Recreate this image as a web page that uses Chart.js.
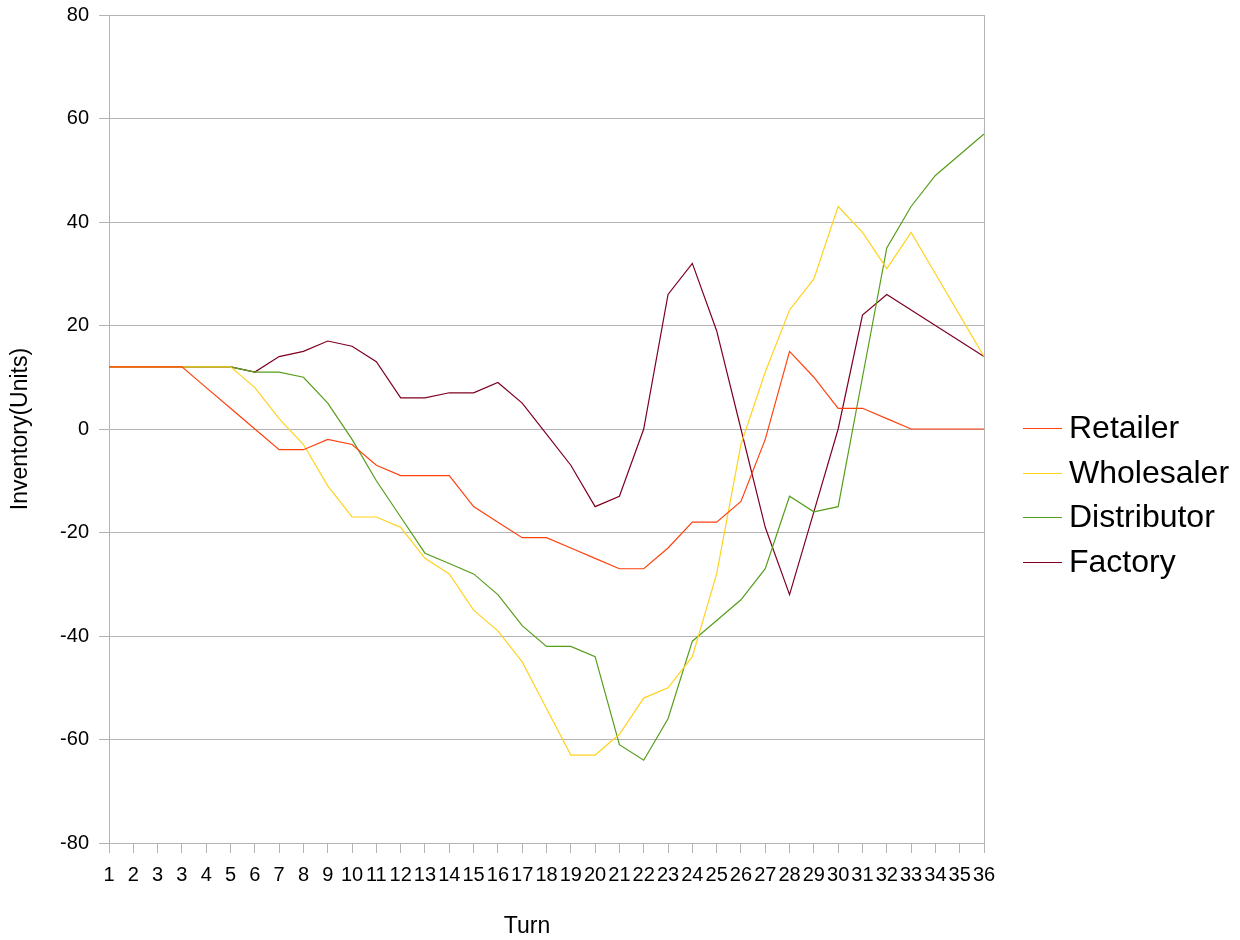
<!DOCTYPE html>
<html>
<head>
<meta charset="utf-8">
<script src="https://cdn.jsdelivr.net/npm/chart.js@4/dist/chart.umd.min.js"></script>
<style>
  body { margin: 0; background: #fff; }
  canvas { display: block; }
</style>
</head>
<body>
<canvas id="chart" width="1240" height="940"></canvas>
<script>
// ==== Data ====
const turns = ["1", "2", "3", "3", "4", "5", "6", "7", "8", "9", "10", "11", "12", "13", "14", "15", "16", "17", "18",
  "19", "20", "21", "22", "23", "24", "25", "26", "27", "28", "29", "30", "31", "32", "33", "34", "35", "36"];

const retailer = [12, 12, 12, 12, 8, 4, 0, -4, -4, -2, -3, -7, -9, -9, -9, -15, -18, -21, -21, -23, -25, -27, -27,
  -23, -18, -18, -14, -2, 15, 10, 4, 4, 2, 0, 0, 0, 0];
const wholesaler = [12, 12, 12, 12, 12, 12, 8, 2, -3, -11, -17, -17, -19, -25, -28, -35, -39, -45, -54, -63, -63,
  -59, -52, -50, -44, -28, -3, 11, 23, 29, 43, 38, 31, 38, 30, 22, 14];
const distributor = [12, 12, 12, 12, 12, 12, 11, 11, 10, 5, -2, -10, -17, -24, -26, -28, -32, -38, -42, -42, -44,
  -61, -64, -56, -41, -37, -33, -27, -13, -16, -15, 10, 35, 43, 49, 53, 57];
const factory = [12, 12, 12, 12, 12, 12, 11, 14, 15, 17, 16, 13, 6, 6, 7, 7, 9, 5, -1, -7, -15, -13, 0, 26, 32, 19,
  0, -19, -32, -16, 0, 22, 26, 23, 20, 17, 14];

const seriesNames = ["Retailer", "Wholesaler", "Distributor", "Factory"];
const seriesColors = ["#ff420e", "#ffd320", "#579d1c", "#7e0021"];

const FONT = "'Liberation Sans', Arial, sans-serif";
const GRID = "#b3b3b3";

// ==== Legend + x title drawn on the right, like the original ====
const sideLegend = {
  id: "sideLegend",
  afterDraw(chart) {
    const ctx = chart.ctx;
    ctx.save();
    ctx.font = `32px ${FONT}`;
    ctx.textBaseline = "middle";
    ctx.fillStyle = "#000";
    chart.data.datasets.forEach((ds, i) => {
      const y = 428 + i * 44.7;
      ctx.strokeStyle = ds.borderColor;
      ctx.lineWidth = 1.2;
      ctx.beginPath();
      ctx.moveTo(1023, Math.round(y) + 0.5);
      ctx.lineTo(1062, Math.round(y) + 0.5);
      ctx.stroke();
      ctx.fillText(ds.label, 1069, y + 1);
    });
    ctx.font = `23px ${FONT}`;
    ctx.textAlign = "center";
    ctx.fillText("Turn", 527, 927);
    ctx.restore();
  }
};

const lines = [retailer, wholesaler, distributor, factory];

new Chart(document.getElementById("chart"), {
  type: "line",
  data: {
    labels: turns,
    datasets: lines.map((values, i) => ({
      label: seriesNames[i],
      data: values,
      borderColor: seriesColors[i],
      backgroundColor: seriesColors[i],
      borderWidth: 1.2,
      pointRadius: 0,
      tension: 0
    }))
  },
  options: {
    responsive: false,
    animation: false,
    layout: { padding: { left: 0, right: 256, top: 15, bottom: 0 } },
    plugins: {
      legend: { display: false },
      tooltip: { enabled: false }
    },
    scales: {
      x: {
        offset: false,
        afterFit: scale => { scale.height = 97; },
        grid: {
          color: c => (c.index === turns.length - 1 ? GRID : "transparent"),
          tickColor: GRID,
          tickLength: 10,
          lineWidth: 1
        },
        border: { display: true, color: GRID },
        ticks: {
          autoSkip: false,
          maxRotation: 0,
          minRotation: 0,
          padding: 10,
          color: "#000",
          font: { family: FONT, size: 20 }
        }
      },
      y: {
        min: -80,
        max: 80,
        afterFit: scale => {
          scale.width = 109;
          scale.paddingTop = 0;
          scale.paddingBottom = 0;
        },
        grid: { color: GRID, tickColor: GRID, tickLength: 10, lineWidth: 1 },
        border: { display: true, color: GRID },
        ticks: {
          stepSize: 20,
          padding: 10,
          color: "#000",
          font: { family: FONT, size: 20 }
        },
        title: {
          display: true,
          text: "Inventory(Units)",
          color: "#000",
          font: { family: FONT, size: 23 },
          padding: { top: 7, bottom: 0 }
        }
      }
    }
  },
  plugins: [sideLegend]
});
</script>
</body>
</html>
